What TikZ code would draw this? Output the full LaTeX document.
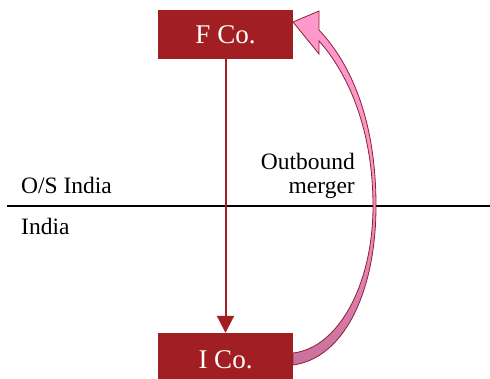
\documentclass[tikz,border=0pt]{standalone}
\usepackage{fontspec}
\setmainfont{Liberation Serif}
\usetikzlibrary{arrows.meta}
\definecolor{boxred}{HTML}{A11F22}
\definecolor{pinktop}{HTML}{FF99CC}
\definecolor{pinkbot}{HTML}{C9709C}
\definecolor{edgered}{HTML}{8B2232}
\tikzset{
  cobox/.style={rectangle, fill=boxred, text=white, minimum width=135pt, inner sep=0pt, font=\fontsize{27}{30}\selectfont},
  lbl/.style={inner sep=0pt, font=\fontsize{23.5}{26}\selectfont, text=black},
  flow/.style={draw=boxred, line width=2pt, -{Triangle[width=17pt,length=17pt]}},
  blockarrow/.style={draw=edgered, line width=0.8pt, top color=pinktop, bottom color=pinkbot, middle color=pinktop!85!pinkbot}
}
\begin{document}
\begin{tikzpicture}[x=1pt,y=-1pt]
\clip (0,0) rectangle (490,378);
\useasboundingbox (0,0) rectangle (490,378);
% boxes
\node[cobox, minimum height=49pt] (F) at (225.5,34.5) {F Co.};
\node[cobox, minimum height=53pt] (I) at (225.5,359.5) {I Co.};
% border line
\coordinate (L) at (7,206);
\coordinate (R) at (490,206);
\draw[black, line width=1.6pt] (L) -- (R);
% labels
\node[lbl, anchor=base west] (os) at (21,193) {O/S India};
\node[lbl, anchor=base west] (in) at (21,234) {India};
\node[lbl, anchor=base east] (ob) at (355,169) {Outbound};
\node[lbl, anchor=base east] (mg) at (355,193) {merger};
% vertical flow
\draw[flow] (F.south) -- (I.north);
% curved block arrow
\path[blockarrow] (293,365) .. controls (345,358) and (376,290) .. (376,206)
  .. controls (376,122) and (352,65) .. (319,30)
  -- (319,11) -- (293,22) -- (319,54) -- (319,41)
  .. controls (347,72) and (373,128) .. (373,206)
  .. controls (373,285) and (338,348) .. (293,353) -- cycle;
\end{tikzpicture}
\end{document}
